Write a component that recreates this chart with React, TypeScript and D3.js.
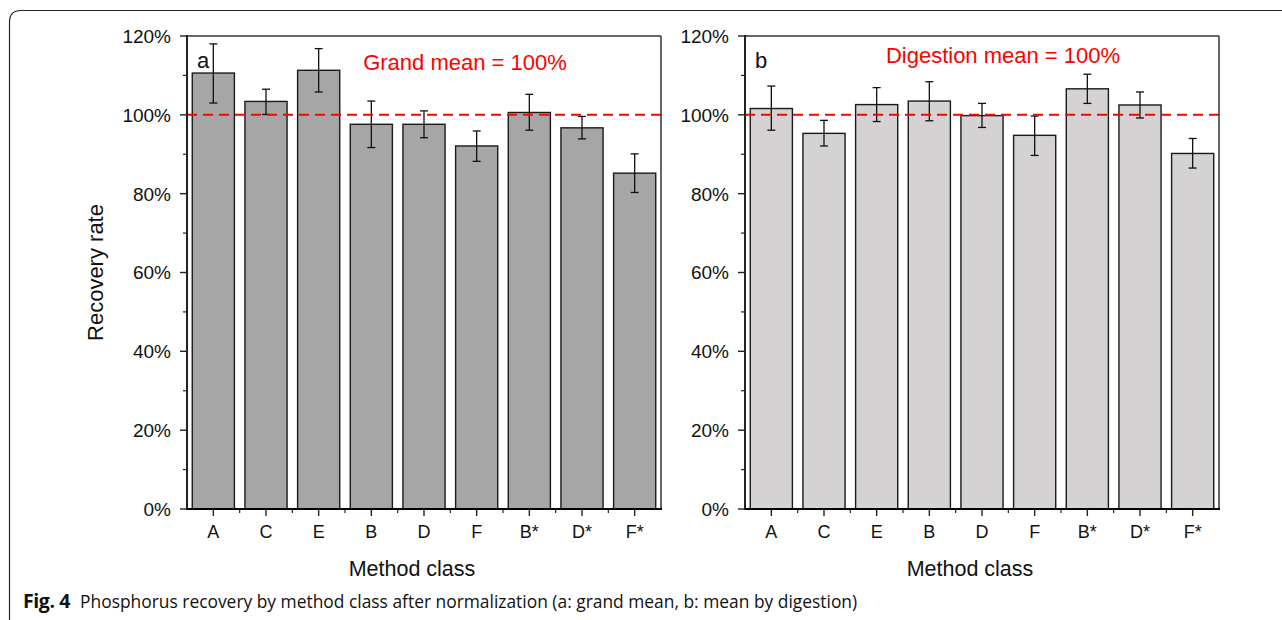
import * as d3 from 'd3';

const categories = ['A', 'C', 'E', 'B', 'D', 'F', 'B*', 'D*', 'F*'];

// panel a: normalized to grand mean
const grandMean = [110.6, 103.4, 111.3, 97.6, 97.6, 92.1, 100.6, 96.7, 85.2];
const grandLow = [103.0, 100.1, 105.8, 91.7, 94.2, 88.2, 96.1, 93.9, 80.3];
const grandHigh = [118.0, 106.5, 116.8, 103.5, 101.0, 95.9, 105.2, 99.6, 90.1];

// panel b: normalized to digestion mean
const digestMean = [101.6, 95.3, 102.6, 103.5, 99.8, 94.8, 106.6, 102.5, 90.2];
const digestLow = [96.1, 92.1, 98.3, 98.5, 96.8, 89.7, 102.9, 99.2, 86.5];
const digestHigh = [107.3, 98.6, 106.9, 108.4, 102.9, 99.7, 110.3, 105.8, 94.0];

const yTicks = [0, 20, 40, 60, 80, 100, 120];
const yMinorTicks = [10, 30, 50, 70, 90, 110];

const FONT = '"Liberation Sans", Arial, sans-serif';

type PanelProps = {
  x0: number;
  means: number[];
  lows: number[];
  highs: number[];
  fill: string;
  letter: string;
  note: string;
  noteX: number;
  noteY: number;
  showYLabel: boolean;
};

const top = 36;
const bottom = 509;
const plotW = 474;

function Panel({ x0, means, lows, highs, fill, letter, note, noteX, noteY, showYLabel }: PanelProps) {
  const x = d3.scaleBand().domain(categories).range([x0, x0 + plotW]).paddingInner(0.2).paddingOuter(0.1);
  const y = d3.scaleLinear().domain([0, 120]).range([bottom, top]);
  const step = x.step();
  const boundaries = d3.range(1, categories.length).map((i) => x0 + i * step);

  return (
    <g>
      {categories.map((c, i) => {
        const cx = x(c)! + x.bandwidth() / 2;
        return (
          <g key={c}>
            <rect
              x={x(c)}
              y={y(means[i])}
              width={x.bandwidth()}
              height={y(0) - y(means[i])}
              fill={fill}
              stroke="#1a1a1a"
              strokeWidth={1.4}
            />
            <line x1={cx} x2={cx} y1={y(lows[i])} y2={y(highs[i])} stroke="#111" strokeWidth={1.3} />
            <line x1={cx - 4} x2={cx + 4} y1={y(lows[i])} y2={y(lows[i])} stroke="#111" strokeWidth={1.3} />
            <line x1={cx - 4} x2={cx + 4} y1={y(highs[i])} y2={y(highs[i])} stroke="#111" strokeWidth={1.3} />
          </g>
        );
      })}

      {/* reference line */}
      <line
        x1={x0}
        x2={x0 + plotW}
        y1={y(100)}
        y2={y(100)}
        stroke="#ff0000"
        strokeWidth={2}
        strokeDasharray="10,6"
      />

      {/* frame */}
      <line x1={x0} x2={x0 + plotW} y1={top} y2={top} stroke="#333" strokeWidth={1.5} />
      <line x1={x0 + plotW} x2={x0 + plotW} y1={top} y2={bottom} stroke="#333" strokeWidth={1.5} />
      <line x1={x0} x2={x0} y1={top - 1} y2={bottom + 1} stroke="#222" strokeWidth={2} />
      <line x1={x0} x2={x0 + plotW + 1} y1={bottom} y2={bottom} stroke="#000" strokeWidth={2.2} />

      {/* y ticks */}
      {yTicks.map((t) => (
        <g key={t}>
          <line x1={x0 - 7} x2={x0} y1={y(t)} y2={y(t)} stroke="#222" strokeWidth={1.4} />
          <text x={x0 - 16} y={y(t)} dy="0.36em" textAnchor="end" fontSize={19} fontFamily={FONT} fill="#111">
            {t}%
          </text>
        </g>
      ))}
      {yMinorTicks.map((t) => (
        <line key={t} x1={x0 - 4} x2={x0} y1={y(t)} y2={y(t)} stroke="#222" strokeWidth={1.2} />
      ))}

      {/* x ticks */}
      {categories.map((c) => {
        const cx = x(c)! + x.bandwidth() / 2;
        return (
          <g key={c}>
            <line x1={cx} x2={cx} y1={bottom} y2={bottom + 7} stroke="#222" strokeWidth={1.4} />
            <text x={cx} y={bottom + 29} textAnchor="middle" fontSize={18} fontFamily={FONT} fill="#111">
              {c}
            </text>
          </g>
        );
      })}
      {boundaries.map((bx, i) => (
        <line key={i} x1={bx} x2={bx} y1={bottom} y2={bottom + 4} stroke="#222" strokeWidth={1.2} />
      ))}

      <text x={x0 + 10} y={68} fontSize={22} fontFamily={FONT} fill="#111">
        {letter}
      </text>
      <text x={noteX} y={noteY} textAnchor="middle" fontSize={22} fontFamily={FONT} fill="#ff0000">
        {note}
      </text>

      <text
        x={x0 + plotW / 2 - 12}
        y={576}
        textAnchor="middle"
        fontSize={21.5}
        fontFamily={FONT}
        fill="#111"
      >
        Method class
      </text>
      {showYLabel && (
        <text
          transform={`translate(103, ${(top + bottom) / 2}) rotate(-90)`}
          textAnchor="middle"
          fontSize={22}
          fontFamily={FONT}
          fill="#111"
        >
          Recovery rate
        </text>
      )}
    </g>
  );
}

export default function App() {
  return (
    <svg
      width={1282}
      height={620}
      style={{ position: 'absolute', left: 0, top: 0, background: '#fff' }}
    >
      <rect width={1282} height={620} fill="#fff" />
      {/* outer figure frame */}
      <path d="M 9.5 640 L 9.5 22 Q 9.5 10.5 21 10.5 L 1300 10.5" fill="none" stroke="#222" strokeWidth={1.2} />

      <Panel
        x0={187}
        means={grandMean}
        lows={grandLow}
        highs={grandHigh}
        fill="#a6a6a6"
        letter="a"
        note="Grand mean = 100%"
        noteX={465}
        noteY={70}
        showYLabel
      />
      <Panel
        x0={745}
        means={digestMean}
        lows={digestLow}
        highs={digestHigh}
        fill="#d4d2d3"
        letter="b"
        note="Digestion mean = 100%"
        noteX={1003}
        noteY={63}
        showYLabel={false}
      />

      <text x={23} y={608} fontFamily={'"Open Sans", sans-serif'} fill="#111">
        <tspan fontWeight="bold" fontSize={19.5} letterSpacing={-0.4}>
          Fig. 4
        </tspan>
        <tspan dx={10} fontSize={17.4}>
          Phosphorus recovery by method class after normalization (a: grand mean, b: mean by digestion)
        </tspan>
      </text>
    </svg>
  );
}
